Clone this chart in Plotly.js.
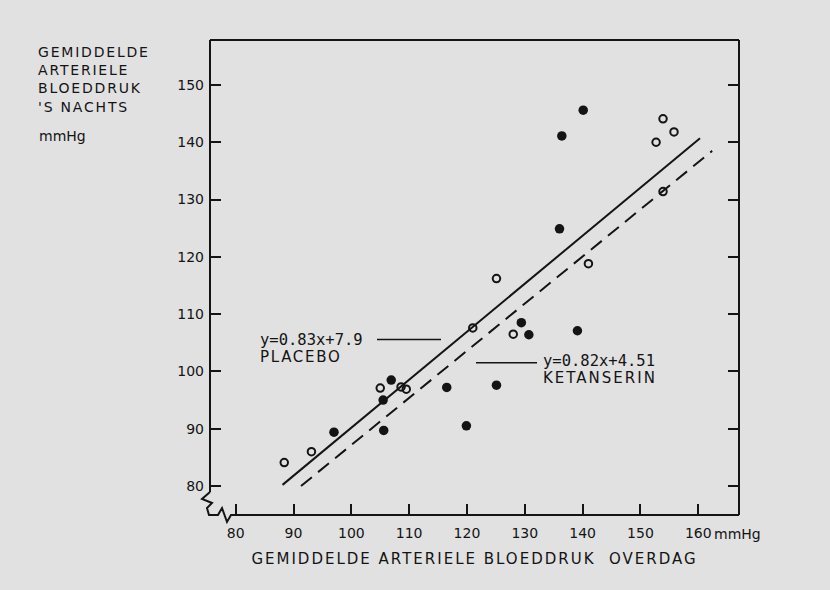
<!DOCTYPE html>
<html><head><meta charset="utf-8">
<script src="https://cdn.plot.ly/plotly-3.0.1.min.js"></script>
<style>
html,body{margin:0;padding:0;background:#e1e1e1;}
#chart{width:830px;height:590px;}
.xtitle{letter-spacing:2px;}
</style></head><body><div id="chart"></div>
<script>
// Placebo (open circles)
const placeboX=[88.4,93.1,105.0,108.6,109.5,121.0,125.1,128.0,141.0,152.7,153.9,153.9,155.8];
const placeboY=[84.1,86.0,97.1,97.3,96.9,107.6,116.2,106.5,118.8,140.0,144.1,131.4,141.8];
// Ketanserin (filled circles)
const ketX=[97.0,105.5,105.6,106.9,116.5,119.9,125.1,129.4,130.7,136.0,136.4,139.1,140.1];
const ketY=[89.4,95.0,89.7,98.5,97.2,90.5,97.6,108.5,106.4,124.9,141.1,107.1,145.6];
// regression lines as drawn (end points)
const placeboLineX=[88.1,160.3];
const placeboLineY=[80.2,140.7];
const ketLineX=[91.3,162.4];
const ketLineY=[80.0,138.5];
// ticks
const xTicks=[80,90,100,110,120,130,140,150,160];
const xTickText=['80','90','100','110','120','130','140','150','160'];
const yTicks=[80,90,100,110,120,130,140,150];
const yTickText=['80','90','100','110','120','130','140','150'];
// texts
const yTitleLines=['GEMIDDELDE','ARTERIELE','BLOEDDRUK',"'S NACHTS"];
const yUnit='mmHg';
const xUnit='mmHg';
const xTitle='GEMIDDELDE ARTERIELE BLOEDDRUK\u00A0 OVERDAG';
const placeboEq='y=0.83x+7.9', placeboName='PLACEBO';
const ketEq='y=0.82x+4.51', ketName='KETANSERIN';

const W=830,H=590,L=210,R=91,T=40,B=75;
const PW=W-L-R, PH=H-T-B;
const px=v=>(v-L)/PW;           // pixel x -> paper
const py=v=>(H-B-v)/PH;         // pixel y -> paper
const ink='#141414';
const sans='DejaVu Sans', mono='DejaVu Sans Mono';

const traces=[
 {x:placeboLineX,y:placeboLineY,mode:'lines',line:{color:ink,width:2},hoverinfo:'skip',name:'placebo fit'},
 {x:ketLineX,y:ketLineY,mode:'lines',line:{color:ink,width:2,dash:'14px,8px'},hoverinfo:'skip',name:'ketanserin fit'},
 {x:placeboX,y:placeboY,mode:'markers',name:placeboName,
  marker:{symbol:'circle-open',size:7.5,color:ink,line:{width:2,color:ink}}},
 {x:ketX,y:ketY,mode:'markers',name:ketName,
  marker:{symbol:'circle',size:9.5,color:ink,line:{width:0}}},
 {x:[],y:[],yaxis:'y2',mode:'markers',showlegend:false,hoverinfo:'skip'}
];

function pathOf(pts){return pts.map((p,i)=>(i?'L':'M')+px(p[0]).toFixed(4)+','+py(p[1]).toFixed(4)).join(' ');}
const brk=[[210,492],[202,499],[212,503],[207,508],[209,515],[218,515],[222,508],[227,522],[231,515],[739,515]];

const shapes=[
 {type:'line',xref:'paper',yref:'paper',x0:0,x1:1,y0:1,y1:1,line:{color:ink,width:2}},
 {type:'line',xref:'paper',yref:'paper',x0:1,x1:1,y0:0,y1:1,line:{color:ink,width:2}},
 {type:'line',xref:'paper',yref:'paper',x0:0,x1:0,y0:py(492),y1:1,line:{color:ink,width:2}},
 {type:'path',xref:'paper',yref:'paper',path:pathOf(brk),line:{color:ink,width:2}},
 {type:'line',xref:'paper',yref:'paper',x0:px(377),x1:px(441),y0:py(339.5),y1:py(339.5),line:{color:ink,width:1.6}},
 {type:'line',xref:'paper',yref:'paper',x0:px(476),x1:px(537),y0:py(362.7),y1:py(362.7),line:{color:ink,width:1.6}}
];

const spacing={};
yTitleLines.forEach(t=>spacing[t]=1.8);
spacing[placeboName]=1.7;
spacing[ketName]=2;
const eqSpan=t=>'<span style="font-family:DejaVu Sans Mono;font-size:15.5px">'+t+'</span>';
const nmSpan=t=>'<span style="font-size:15px">'+t+'</span>';

const ann=[
 {text:yTitleLines.join('<br>'),xref:'paper',yref:'paper',x:px(37),y:py(79.4),
  xanchor:'left',yanchor:'middle',align:'left',showarrow:false,borderpad:0,font:{family:sans,size:14,color:ink}},
 {text:yUnit,xref:'paper',yref:'paper',x:px(37),y:py(135.5),xanchor:'left',yanchor:'middle',align:'left',
  showarrow:false,font:{family:sans,size:14,color:ink}},
 {text:eqSpan(placeboEq)+'<br>'+nmSpan(placeboName),xref:'paper',yref:'paper',x:px(259),y:py(349),
  xanchor:'left',yanchor:'middle',align:'left',showarrow:false,borderpad:0,font:{family:sans,size:13,color:ink}},
 {text:eqSpan(ketEq)+'<br>'+nmSpan(ketName),xref:'paper',yref:'paper',x:px(542),y:py(369.2),
  xanchor:'left',yanchor:'middle',align:'left',showarrow:false,borderpad:0,font:{family:sans,size:13,color:ink}},
 {text:xUnit,xref:'paper',yref:'paper',x:px(712),y:py(534.3),xanchor:'left',yanchor:'middle',align:'left',
  showarrow:false,font:{family:sans,size:14,color:ink}}
];

const yr=[74.94,157.85];
const layout={
 width:W,height:H,margin:{l:L,r:R,t:T,b:B,pad:0},
 paper_bgcolor:'#e1e1e1',plot_bgcolor:'#e1e1e1',showlegend:false,
 font:{family:sans,color:ink},
 xaxis:{range:[75.56,167.04],tickmode:'array',tickvals:xTicks,ticktext:xTickText,
  ticks:'inside',ticklen:11,tickwidth:2,tickcolor:ink,showline:false,showgrid:false,zeroline:false,
  automargin:false,ticklabelstandoff:8,tickfont:{family:sans,size:14,color:ink},
  title:{text:xTitle,font:{family:sans,size:15,color:ink},standoff:13}},
 yaxis:{range:yr,tickmode:'array',tickvals:yTicks,ticktext:yTickText,
  ticks:'inside',ticklen:11,tickwidth:2,tickcolor:ink,showline:false,showgrid:false,zeroline:false,
  automargin:false,ticklabelstandoff:5,tickfont:{family:sans,size:14,color:ink}},
 yaxis2:{range:yr,overlaying:'y',side:'right',tickmode:'array',tickvals:yTicks,
  ticks:'inside',ticklen:11,tickwidth:2,tickcolor:ink,showticklabels:false,showline:false,
  showgrid:false,zeroline:false,automargin:false},
 shapes:shapes,annotations:ann
};
Plotly.newPlot('chart',traces,layout,{staticPlot:true}).then(()=>{
  document.querySelectorAll('g.annotation text, g.annotation tspan').forEach(el=>{
    const s=spacing[el.textContent];
    if(s!==undefined) el.style.letterSpacing=s+'px';
  });
});
</script></body></html>
